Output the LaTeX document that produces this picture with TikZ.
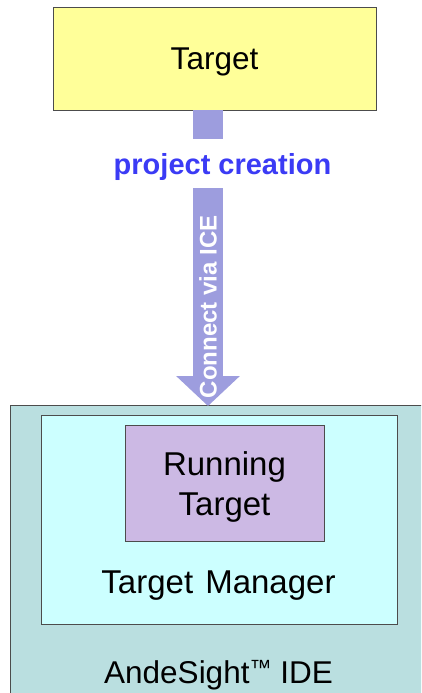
\documentclass[tikz,border=0pt]{standalone}
\usepackage{fontspec}
\setmainfont{Liberation Sans}
\usetikzlibrary{arrows.meta}

\definecolor{targetfill}{HTML}{FFFF99}
\definecolor{arrowfill}{HTML}{9D9DDE}
\definecolor{labelblue}{HTML}{3B3BF5}
\definecolor{idefill}{HTML}{BADFE0}
\definecolor{managerfill}{HTML}{CCFFFF}
\definecolor{runningfill}{HTML}{CCB9E4}

\newcommand{\bigtext}{\fontsize{31.5}{40}\selectfont}
\newcommand{\biggertext}{\fontsize{33}{40}\selectfont}
\newcommand{\smalltm}{\raisebox{8pt}{\fontsize{22}{22}\selectfont ™}}

\begin{document}
\begin{tikzpicture}[x=1pt, y=-1pt,
    box/.style={draw=black!70, line width=0.9pt, inner sep=0pt},
    bigarrow/.style={draw=arrowfill, line width=30pt,
        -{Triangle[width=62pt, length=30pt]}},
  ]
  \useasboundingbox (0,0) rectangle (421,693);
  \clip (0,0) rectangle (421,693);

  \node[box, fill=targetfill, minimum width=323pt, minimum height=103pt,
        text depth=0pt, font=\bigtext] (target) at (214.5,58.5) {Target};

  \node[box, fill=idefill, minimum width=440pt, minimum height=320pt]
      (ide) at (230,565) {};
  \node[font=\bigtext, text depth=0pt] (idelabel) at (218.5,672)
      {AndeSight\smalltm\ IDE};

  \node[box, fill=managerfill, minimum width=356pt, minimum height=209pt]
      (manager) at (219,519.5) {};
  \node[font=\biggertext, text depth=0pt] (managerlabel) at (218.5,582)
      {Target\hspace{3pt} Manager};

  \node[box, fill=runningfill, minimum width=199pt, minimum height=116pt]
      (running) at (224.5,483) {};
  \node[align=center, font=\biggertext, yshift=-4pt] (runninglabel)
      at (running) {Running\\Target};

  % block arrow down to the IDE
  \coordinate (tip) at (208,406);
  \draw[bigarrow] (target.south -| tip) -- (tip)
      node[pos=0.181, xshift=14.5pt, fill=white, inner sep=0pt,
           minimum height=49pt, text depth=0pt, text=labelblue,
           font=\fontsize{29}{34}\selectfont\bfseries] (creation)
          {project creation}
      node[pos=0.664, rotate=90, text=white, inner sep=0pt,
           font=\fontsize{24}{28}\selectfont\bfseries] (ice)
          {Connect via ICE};
\end{tikzpicture}
\end{document}
